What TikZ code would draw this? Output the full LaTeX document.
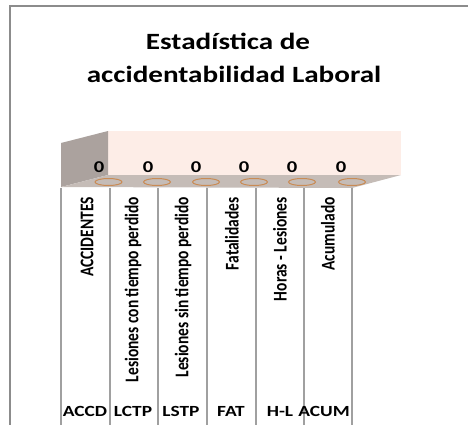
\documentclass[tikz,border=0pt]{standalone}
\usepackage{fontspec}
\setmainfont{Carlito}
\begin{document}
\begin{tikzpicture}[x=1pt,y=-1pt]
\tikzset{
    title/.style={font=\bfseries\fontsize{23.3}{27}\selectfont, anchor=base, inner sep=0pt, xscale=1.25},
    zero/.style={font=\bfseries\fontsize{16.5}{19}\selectfont, anchor=base, inner sep=0pt, xscale=1.25},
    cat/.style={font=\bfseries\fontsize{15.5}{18}\selectfont, rotate=90, anchor=east, inner sep=0pt},
    abbr/.style={font=\bfseries\fontsize{15.5}{18}\selectfont, anchor=base, inner sep=0pt, xscale=1.25},
    ring/.style={draw=ringorange, line width=1pt},
    rule/.style={draw=rulegray, line width=1.6pt},
}
\newcommand{\wide}[1]{\scalebox{1}[1.25]{#1}}
\definecolor{framegray}{RGB}{140,140,140}
\definecolor{rulegray}{RGB}{160,160,160}
\definecolor{wallpink}{RGB}{253,237,231}
\definecolor{sidegray}{RGB}{171,162,158}
\definecolor{floorgray}{RGB}{197,188,183}
\definecolor{ringorange}{RGB}{201,139,85}
\useasboundingbox (0,0) rectangle (468,425);
\clip (0,0) rectangle (468,425);

\coordinate (sb) at (61,187);  % side wall, front bottom
\coordinate (st) at (61,143);  % side wall, front top
\coordinate (bl) at (108,131); % back wall, top left
\coordinate (bb) at (108,175); % back wall, bottom left
\coordinate (br) at (401,175); % back wall, bottom right
\coordinate (fr) at (352,188); % floor, front right

% The frame, cut off on the right and at the bottom.
\draw[framegray, line width=2pt] (9.5,440) -- (9.5,6) -- (480,6);

% The title.
\node[title] (t1) at (228,50) {Estadística de};
\node[title] (t2) at (234,83) {accidentabilidad Laboral};

% Walls and floor of the chart.
\fill[wallpink] (bl) rectangle (br);
\fill[sidegray] (sb) -- (st) -- (bl) -- (bb) -- cycle;
\fill[floorgray] (sb) -- (bb) -- (br) -- (fr) -- cycle;

% The empty bars, lying flat on the floor.
\draw[ring] (108.5,182) ellipse [x radius=13.5, y radius=3.5];
\draw[ring] (157,182)   ellipse [x radius=13.5, y radius=3.5];
\draw[ring] (206,182)   ellipse [x radius=13.5, y radius=3.5];
\draw[ring] (254,182)   ellipse [x radius=13.5, y radius=3.5];
\draw[ring] (302,182)   ellipse [x radius=13.5, y radius=3.5];
\draw[ring] (352,182)   ellipse [x radius=13.5, y radius=3.5];

% The values.
\node[zero] (v1) at (99,172.5)  {0};
\node[zero] (v2) at (148,172.5) {0};
\node[zero] (v3) at (196,172.5) {0};
\node[zero] (v4) at (244,172.5) {0};
\node[zero] (v5) at (292,172.5) {0};
\node[zero] (v6) at (341,172.5) {0};

% The table under the chart.
\draw[rule] (61,188)  -- (61,440);
\draw[rule] (110,188) -- (110,440);
\draw[rule] (158,188) -- (158,440);
\draw[rule] (207,188) -- (207,440);
\draw[rule] (256,188) -- (256,440);
\draw[rule] (304,188) -- (304,440);
\draw[rule] (352,188) -- (352,440);

\node[cat] (c1) at (87,197)  {\wide{ACCIDENTES}};
\node[cat] (c2) at (133,197) {\wide{Lesiones con tiempo perdido}};
\node[cat] (c3) at (183,197) {\wide{Lesiones sin tiempo perdido}};
\node[cat] (c4) at (232,197) {\wide{Fatalidades}};
\node[cat] (c5) at (280,197) {\wide{Horas - Lesiones}};
\node[cat] (c6) at (328,197) {\wide{Acumulado}};

\node[abbr] (a1) at (85,416)  {ACCD};
\node[abbr] (a2) at (133,416) {LCTP};
\node[abbr] (a3) at (181,416) {LSTP};
\node[abbr] (a4) at (231,416) {FAT};
\node[abbr] (a5) at (280,416) {H-L};
\node[abbr] (a6) at (324,416) {ACUM};
\end{tikzpicture}
\end{document}
